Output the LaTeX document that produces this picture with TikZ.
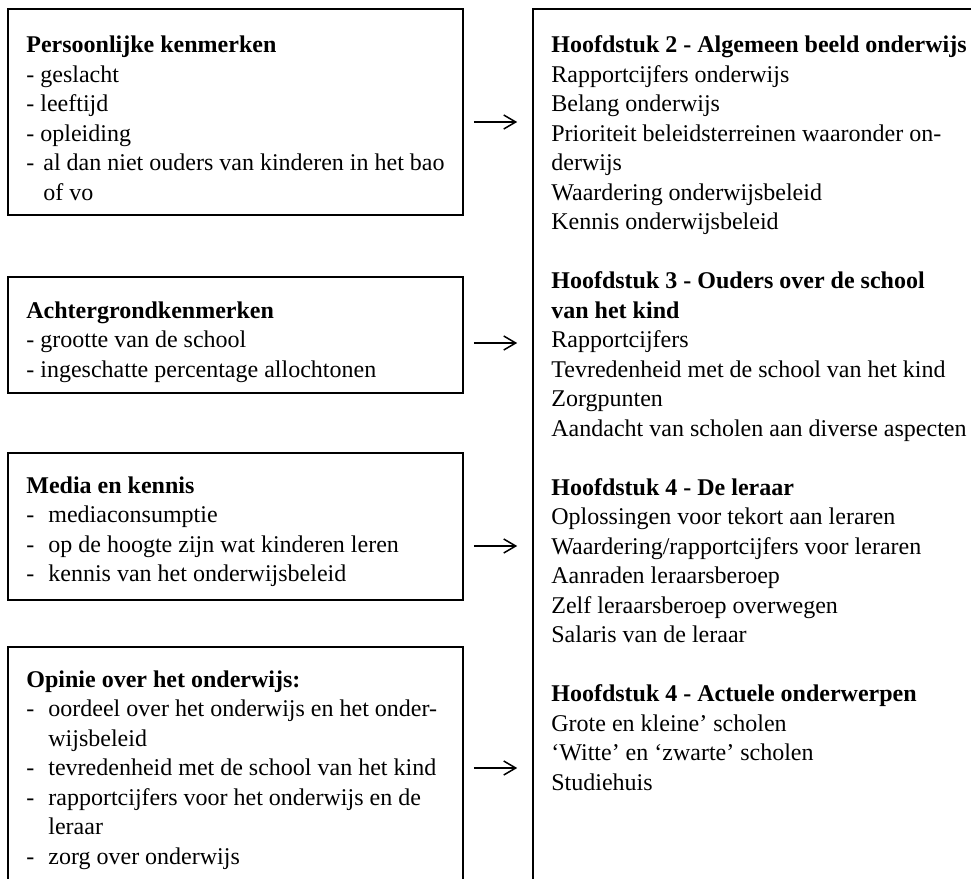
\documentclass[tikz,border=0pt]{standalone}
\usepackage{fontspec}
\setmainfont{Liberation Serif}
\usetikzlibrary{arrows.meta,fit}

\newcommand{\lnstrut}{\rule{0pt}{10.3pt}}
\newcommand{\itm}{\makebox[11pt][l]{-}}
\newcommand{\cnt}{\hspace*{11pt}}

\begin{document}
\begin{tikzpicture}[x=0.5pt, y=-0.5pt,
  frame/.style={draw, line width=0.8pt, inner sep=0pt},
  txt/.style={anchor=north west, inner sep=0pt, align=left,
              font=\fontsize{12}{14.75}\selectfont},
  arr/.style={-{Straight Barb[length=6pt,width=7pt]}, line width=0.75pt,
              shorten <=5pt, shorten >=7.5pt},
]
\useasboundingbox (0,0) rectangle (971,879);
\clip (0,0) rectangle (971,879);

% left boxes
\node[frame, fit={(8,9) (463,215)}] (pers) {};
\node[frame, fit={(8,277) (463,393)}] (achter) {};
\node[frame, fit={(8,453) (463,600)}] (media) {};
\node[frame, fit={(8,647) (463,900)}] (opinie) {};
% right box
\node[frame, fit={(533,9) (1000,900)}] (hfd) {};

\node[txt] (perstxt) at (26,31.9) {\lnstrut\textbf{Persoonlijke kenmerken}\\
  - geslacht\\
  - leeftijd\\
  - opleiding\\
  \makebox[8.5pt][l]{-}al dan niet ouders van kinderen in het bao\\
  \hspace*{8.5pt}of vo};
\node[txt] (achtertxt) at (26,297.4) {\lnstrut\textbf{Achtergrondkenmerken}\\
  - grootte van de school\\
  - ingeschatte percentage allochtonen};
\node[txt] (mediatxt) at (26,472.4) {\lnstrut\textbf{Media en kennis}\\
  \itm mediaconsumptie\\
  \itm op de hoogte zijn wat kinderen leren\\
  \itm kennis van het onderwijsbeleid};
\node[txt] (opinietxt) at (26,666.4) {\lnstrut\textbf{Opinie over het onderwijs:}\\
  \itm oordeel over het onderwijs en het onder-\\
  \cnt wijsbeleid\\
  \itm tevredenheid met de school van het kind\\
  \itm rapportcijfers voor het onderwijs en de\\
  \cnt leraar\\
  \itm zorg over onderwijs};

\node[txt] (hfdtxt) at (551,31.9) {\lnstrut\textbf{Hoofdstuk 2 - Algemeen beeld onderwijs}\\
  Rapportcijfers onderwijs\\
  Belang onderwijs\\
  Prioriteit beleidsterreinen waaronder on-\\
  derwijs\\
  Waardering onderwijsbeleid\\
  Kennis onderwijsbeleid\\[14.75pt]
  \textbf{Hoofdstuk 3 - Ouders over de school}\\
  \textbf{van het kind}\\
  Rapportcijfers\\
  Tevredenheid met de school van het kind\\
  Zorgpunten\\
  Aandacht van scholen aan diverse aspecten\\[14.75pt]
  \textbf{Hoofdstuk 4 - De leraar}\\
  Oplossingen voor tekort aan leraren\\
  Waardering/rapportcijfers voor leraren\\
  Aanraden leraarsberoep\\
  Zelf leraarsberoep overwegen\\
  Salaris van de leraar\\[14.75pt]
  \textbf{Hoofdstuk 4 - Actuele onderwerpen}\\
  Grote en kleine’ scholen\\
  ‘Witte’ en ‘zwarte’ scholen\\
  Studiehuis};

% arrows
\coordinate (y1) at (0,122);
\coordinate (y2) at (0,343);
\coordinate (y3) at (0,546);
\coordinate (y4) at (0,768);
\draw[arr] (pers.east |- y1) -- (hfd.west |- y1);
\draw[arr] (achter.east |- y2) -- (hfd.west |- y2);
\draw[arr] (media.east |- y3) -- (hfd.west |- y3);
\draw[arr] (opinie.east |- y4) -- (hfd.west |- y4);
\end{tikzpicture}
\end{document}
